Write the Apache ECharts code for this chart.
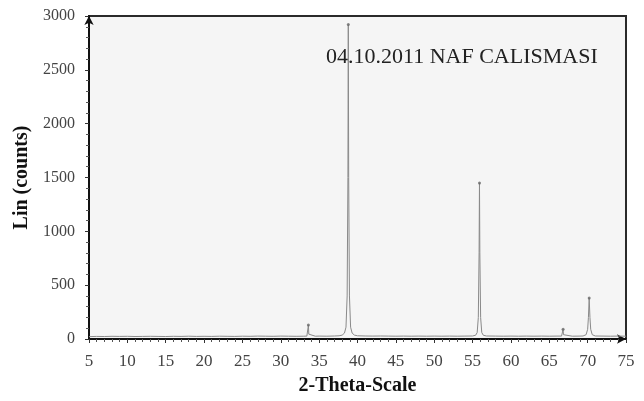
<!DOCTYPE html>
<html>
<head>
<meta charset="utf-8">
<script src="https://cdn.jsdelivr.net/npm/echarts@6/dist/echarts.min.js"></script>
<style>
  html, body { margin: 0; padding: 0; background: #fff; }
  #chart { width: 644px; height: 401px; }
</style>
</head>
<body>
<div id="chart"></div>
<script>
// 2-theta positions and counts
const twoTheta = [
  5, 6, 7, 8, 9, 10, 11, 12, 13, 14, 15, 16, 17, 18, 19, 20, 21, 22, 23, 24, 25,
  26, 27, 28, 29, 30, 31, 32, 33, 33.4, 33.55, 33.6, 33.65, 33.8, 34.5, 35, 36, 37,
  37.6, 38.0, 38.3, 38.5, 38.65, 38.75, 38.8, 38.85, 38.95, 39.1, 39.3, 39.6, 40,
  41, 42, 43, 44, 45, 46, 47, 48, 49, 50, 51, 52, 53, 54,
  55.0, 55.4, 55.6, 55.75, 55.85, 55.9, 55.95, 56.05, 56.2, 56.4, 56.8,
  58, 59, 60, 61, 62, 63, 64, 65, 66,
  66.6, 66.75, 66.8, 66.85, 67.0, 68, 69,
  69.4, 69.8, 70.0, 70.1, 70.2, 70.3, 70.4, 70.6, 71.0, 72, 73, 74, 75
];
const counts = [
  22, 24, 23, 25, 24, 25, 23, 24, 25, 24, 23, 25, 24, 26, 24, 25, 24, 26, 25, 24, 26,
  25, 27, 26, 25, 27, 26, 25, 26, 27, 45, 130, 45, 27, 26, 27, 26, 28,
  30, 36, 55, 110, 400, 1500, 2920, 1500, 400, 110, 55, 36, 30,
  28, 27, 28, 27, 26, 27, 26, 27, 26, 27, 26, 27, 26, 27,
  28, 35, 60, 200, 800, 1450, 800, 200, 60, 35, 28,
  27, 26, 27, 26, 27, 26, 27, 26, 27,
  27, 40, 90, 40, 27, 26, 27,
  28, 40, 90, 200, 380, 200, 90, 40, 28, 27, 26, 27, 26
];
const peakPos = [33.6, 38.8, 55.9, 66.8, 70.2];
const peakTop = [130, 2920, 1450, 90, 380];
const titleText = '04.10.2011 NAF CALISMASI';

const serif = '"Liberation Serif", "DejaVu Serif", serif';
const chart = echarts.init(document.getElementById('chart'));

chart.setOption({
  animation: false,
  backgroundColor: '#fff',
  title: {
    text: titleText,
    left: 321, top: 41,
    textStyle: { fontFamily: serif, fontSize: 22, fontWeight: 'normal', color: '#222' }
  },
  grid: {
    left: 89, right: 18, top: 16, bottom: 62,
    outerBoundsMode: 'none',
    show: true, backgroundColor: '#f5f5f5', borderColor: '#2a2a2a', borderWidth: 2
  },
  xAxis: {
    type: 'value', min: 5, max: 75, interval: 5,
    name: '2-Theta-Scale', nameLocation: 'middle', nameGap: 37,
    nameTextStyle: { fontFamily: serif, fontSize: 20, fontWeight: 'bold', color: '#111' },
    axisLine: { show: true, lineStyle: { color: '#111', width: 2 }, symbol: ['none', 'arrow'], symbolSize: [7, 9] },
    axisTick: { show: true, length: 4, lineStyle: { color: '#333' } },
    minorTick: { show: true, splitNumber: 5, length: 3, lineStyle: { color: '#555' } },
    axisLabel: { fontFamily: serif, fontSize: 17, color: '#444', margin: 14 },
    splitLine: { show: false }
  },
  yAxis: {
    type: 'value', min: 0, max: 3000, interval: 500,
    name: 'Lin (counts)', nameLocation: 'middle', nameGap: 46,
    nameTextStyle: { fontFamily: serif, fontSize: 20, fontWeight: 'bold', color: '#111' },
    axisLine: { show: true, lineStyle: { color: '#111', width: 2 }, symbol: ['none', 'arrow'], symbolSize: [7, 9] },
    axisTick: { show: true, length: 4, lineStyle: { color: '#333' } },
    minorTick: { show: true, splitNumber: 5, length: 3, lineStyle: { color: '#555' } },
    axisLabel: { fontFamily: serif, fontSize: 16, color: '#444', margin: 14, formatter: (v) => String(v) },
    splitLine: { show: false }
  },
  series: [
    {
      type: 'line',
      data: twoTheta.map((x, i) => [x, counts[i]]),
      showSymbol: false,
      lineStyle: { color: '#8a8a8a', width: 1 },
      z: 3
    },
    {
      type: 'scatter',
      data: peakPos.map((x, i) => [x, peakTop[i]]),
      symbol: 'circle', symbolSize: 3,
      itemStyle: { color: '#666' },
      z: 4
    }
  ]
});
</script>
</body>
</html>
